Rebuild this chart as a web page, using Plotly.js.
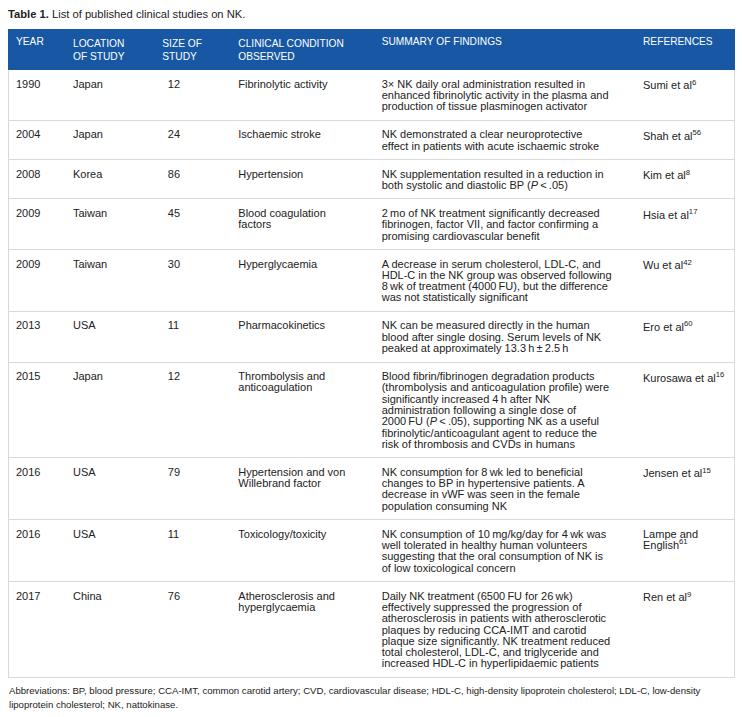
<!DOCTYPE html>
<html>
<head>
<meta charset="utf-8">
<script src="https://cdn.plot.ly/plotly-3.0.1.min.js"></script>
<style>html,body{margin:0;padding:0;background:#fff;}</style>
</head>
<body>
<div id="chart" style="width:742px;height:717px;"></div>
<script>
// ---------- data ----------
const headerLabels = ['YEAR', 'LOCATION\nOF STUDY', 'SIZE OF\nSTUDY', 'CLINICAL CONDITION\nOBSERVED', 'SUMMARY OF FINDINGS', 'REFERENCES'];
const years = ['1990', '2004', '2008', '2009', '2009', '2013', '2015', '2016', '2016', '2017'];
const locations = ['Japan', 'Japan', 'Korea', 'Taiwan', 'Taiwan', 'USA', 'Japan', 'USA', 'USA', 'China'];
const sizes = [12, 24, 86, 45, 30, 11, 12, 79, 11, 76];
const conditions = [
  'Fibrinolytic activity',
  'Ischaemic stroke',
  'Hypertension',
  'Blood coagulation\nfactors',
  'Hyperglycaemia',
  'Pharmacokinetics',
  'Thrombolysis and\nanticoagulation',
  'Hypertension and von\nWillebrand factor',
  'Toxicology/toxicity',
  'Atherosclerosis and\nhyperglycaemia'
];
const findings = [
  '3\u00d7 NK daily oral administration resulted in\nenhanced fibrinolytic activity in the plasma and\nproduction of tissue plasminogen activator',
  'NK demonstrated a clear neuroprotective\neffect in patients with acute ischaemic stroke',
  'NK supplementation resulted in a reduction in\nboth systolic and diastolic BP (<i>P</i>\u2009&lt;\u2009.05)',
  '2\u2009mo of NK treatment significantly decreased\nfibrinogen, factor VII, and factor confirming a\npromising cardiovascular benefit',
  'A decrease in serum cholesterol, LDL-C, and\nHDL-C in the NK group was observed following\n8\u2009wk of treatment (4000\u2009FU), but the difference\nwas not statistically significant',
  'NK can be measured directly in the human\nblood after single dosing. Serum levels of NK\npeaked at approximately 13.3\u2009h\u2009\u00b1\u20092.5\u2009h',
  'Blood fibrin/fibrinogen degradation products\n(thrombolysis and anticoagulation profile) were\nsignificantly increased 4\u2009h after NK\nadministration following a single dose of\n2000\u2009FU (<i>P</i>\u2009&lt;\u2009.05), supporting NK as a useful\nfibrinolytic/anticoagulant agent to reduce the\nrisk of thrombosis and CVDs in humans',
  'NK consumption for 8\u2009wk led to beneficial\nchanges to BP in hypertensive patients. A\ndecrease in vWF was seen in the female\npopulation consuming NK',
  'NK consumption of 10\u2009mg/kg/day for 4\u2009wk was\nwell tolerated in healthy human volunteers\nsuggesting that the oral consumption of NK is\nof low toxicological concern',
  'Daily NK treatment (6500\u2009FU for 26\u2009wk)\neffectively suppressed the progression of\natherosclerosis in patients with atherosclerotic\nplaques by reducing CCA-IMT and carotid\nplaque size significantly. NK treatment reduced\ntotal cholesterol, LDL-C, and triglyceride and\nincreased HDL-C in hyperlipidaemic patients'
];
const references = [
  'Sumi et al<sup>6</sup>',
  'Shah et al<sup>56</sup>',
  'Kim et al<sup>8</sup>',
  'Hsia et al<sup>17</sup>',
  'Wu et al<sup>42</sup>',
  'Ero et al<sup>60</sup>',
  'Kurosawa et al<sup>16</sup>',
  'Jensen et al<sup>15</sup>',
  'Lampe and\nEnglish<sup>61</sup>',
  'Ren et al<sup>9</sup>'
];
const titleText = '<b>Table 1.</b> List of published clinical studies on NK.';
const footnoteLines = [
  'Abbreviations: BP, blood pressure; CCA-IMT, common carotid artery; CVD, cardiovascular disease; HDL-C, high-density lipoprotein cholesterol; LDL-C, low-density',
  'lipoprotein cholesterol; NK, nattokinase.'
];

// ---------- style ----------
const FONT = '"Liberation Sans", Arial, Helvetica, sans-serif';
const TEXT = '#222222';
const BLUE = '#1757a3';
const GRID = '#d9d9d9';
const BASE = 8.692;   // sets line spacing (1.3em)
const GLYPH = 11.0;   // visible glyph size

function cellHtml(s, lead) {
  const lines = String(s).split('\n');
  let html = lines.map(l => '<span style="font-size:' + GLYPH + 'px">' + (lead || '') + l + '</span>').join('<br>');
  if (lines.length === 1) html += '<br>';
  return html;
}

const columns = [years, locations, sizes, conditions, findings, references];
const cellValues = columns.map((col, ci) => col.map(v => cellHtml(v, ci === 2 ? '\u2002' : '')));

const W = 742, H = 717;
const trace = {
  type: 'table',
  domain: {x: [8 / W, 734 / W], y: [0, 1 - 29.5 / H]},
  columnwidth: [57, 89.3, 76, 143.4, 261.3, 99],
  header: {
    values: headerLabels.map(h => h.replace('\n', '<br>')),
    align: 'left',
    fill: {color: BLUE},
    line: {color: BLUE, width: 1},
    font: {family: FONT, size: 10.2, color: '#ffffff'},
    height: 20
  },
  cells: {
    values: cellValues,
    align: 'left',
    fill: {color: '#ffffff'},
    line: {color: GRID, width: 1},
    font: {family: FONT, size: BASE, color: TEXT},
    height: 20
  }
};

const layout = {
  width: W, height: H,
  margin: {l: 0, r: 0, t: 0, b: 0},
  paper_bgcolor: '#ffffff',
  font: {family: FONT, color: TEXT},
  title: {
    text: titleText,
    x: 8 / W, xref: 'container', xanchor: 'left',
    y: 1 - 13.7 / H, yref: 'container', yanchor: 'middle',
    font: {family: FONT, size: 11.2, color: TEXT}
  },
  annotations: [{
    xref: 'paper', yref: 'paper',
    x: 7 / W, y: 1 - 683 / H,
    xanchor: 'left', yanchor: 'top',
    align: 'left', showarrow: false,
    text: footnoteLines.map(l => '<span style="font-size:9.6px">' + l + '</span>').join('<br>'),
    font: {family: FONT, size: 10.5, color: TEXT}
  }]
};

function hideVerticalRules(gd) {
  const cols = Array.from(gd.querySelectorAll('.y-column'));
  cols.sort((a, b) => a.getBoundingClientRect().left - b.getBoundingClientRect().left);
  const n = cols.length;
  cols.forEach((col, ci) => {
    col.querySelectorAll('.cell-rect').forEach(r => {
      const w = parseFloat(r.getAttribute('width')), h = parseFloat(r.getAttribute('height'));
      if (!isFinite(w) || !isFinite(h)) return;
      const da = ci === 0 ? (w + ' ' + h + ' ' + (w + h) + ' 0')
               : ci === n - 1 ? ((2 * w + h) + ' ' + h)
               : (w + ' ' + h);
      r.style.strokeDasharray = da;
    });
  });
}

const gd = document.getElementById('chart');
Plotly.newPlot(gd, [trace], layout, {displayModeBar: false, staticPlot: true}).then(() => {
  hideVerticalRules(gd);
  gd.on('plotly_afterplot', () => hideVerticalRules(gd));
  [0, 50, 200, 600, 1200].forEach(t => setTimeout(() => hideVerticalRules(gd), t));
});
</script>
</body>
</html>
